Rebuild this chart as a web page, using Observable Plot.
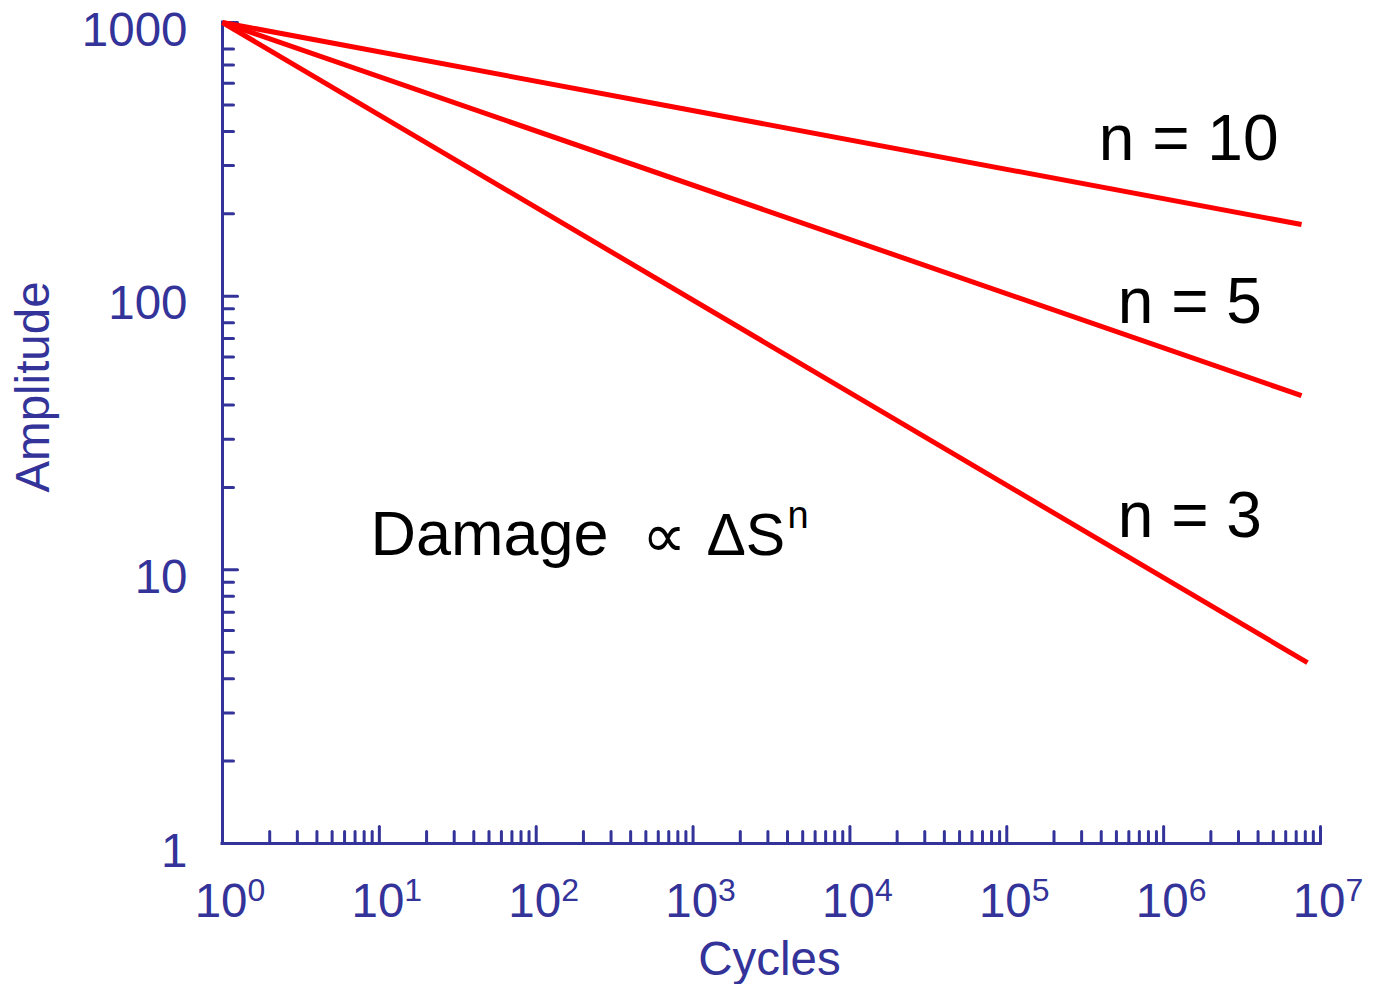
<!DOCTYPE html>
<html>
<head>
<meta charset="utf-8">
<script src="https://cdn.jsdelivr.net/npm/d3@7"></script>
<script src="https://cdn.jsdelivr.net/npm/@observablehq/plot@0.6"></script>
<style>
  html, body { margin: 0; padding: 0; background: #fff; }
  #chart svg { display: block; }
</style>
</head>
<body>
<div id="chart"></div>
<script>
// ---- data ----
const seriesLabels = ["n = 10", "n = 5", "n = 3"];
const startCycles = [1, 1, 1];
const startAmplitude = [1000, 1000, 1000];
const endCycles = [7.57e6, 7.57e6, 8.26e6];
const endAmplitude = [182.7, 43.3, 4.58];

// label anchor points (data units)
const labelCycles = [3.86e5, 5.1e5, 5.1e5];
const labelAmplitude = [315, 80.1, 13.2];

// annotation
const noteCycles = [8.77];
const noteAmplitude = [11.3];

// axes
const xTickValues = [1, 10, 100, 1000, 1e4, 1e5, 1e6, 1e7];
const xTickExponents = ["0", "1", "2", "3", "4", "5", "6", "7"];
const xMinorTicks = [
  2, 3, 4, 5, 6, 7, 8, 9,
  20, 30, 40, 50, 60, 70, 80, 90,
  200, 300, 400, 500, 600, 700, 800, 900,
  2000, 3000, 4000, 5000, 6000, 7000, 8000, 9000,
  2e4, 3e4, 4e4, 5e4, 6e4, 7e4, 8e4, 9e4,
  2e5, 3e5, 4e5, 5e5, 6e5, 7e5, 8e5, 9e5,
  2e6, 3e6, 4e6, 5e6, 6e6, 7e6, 8e6, 9e6
];
const yTickValues = [1, 10, 100, 1000];
const yTickLabels = ["1", "10", "100", "1000"];
const yMinorTicks = [
  2, 3, 4, 5, 6, 7, 8, 9,
  20, 30, 40, 50, 60, 70, 80, 90,
  200, 300, 400, 500, 600, 700, 800
];
const xTitle = "Cycles";
const yTitle = "Amplitude";

// ---- build tables ----
const lineData = [];
seriesLabels.forEach((s, i) => {
  lineData.push({series: s, cycles: startCycles[i], amp: startAmplitude[i]});
  lineData.push({series: s, cycles: endCycles[i], amp: endAmplitude[i]});
});
const labelData = seriesLabels.map((s, i) => ({label: s, cycles: labelCycles[i], amp: labelAmplitude[i]}));
const noteData = noteCycles.map((c, i) => ({cycles: c, amp: noteAmplitude[i]}));

const axisColor = "#333399";
const font = "Liberation Sans, Arial, sans-serif";
const tickShape = {draw(ctx, l) { ctx.moveTo(0, 0); ctx.lineTo(0, -l); }};

const chart = Plot.plot({
  width: 1382,
  height: 984,
  marginLeft: 222,
  marginRight: 62,
  marginTop: 22,
  marginBottom: 141,
  style: {fontFamily: font, background: "#fff"},
  x: {type: "log", domain: [1, 1e7], axis: null},
  y: {type: "log", domain: [1, 1000], axis: null},
  marks: [
    // axis lines
    Plot.ruleY([1], {stroke: axisColor, strokeWidth: 3, strokeLinecap: "square"}),
    Plot.ruleX([1], {stroke: axisColor, strokeWidth: 3, strokeLinecap: "square"}),
    // x ticks (inward)
    Plot.vector(xTickValues, {x: d => d, frameAnchor: "bottom", length: 17, rotate: 0, anchor: "start", shape: tickShape, stroke: axisColor, strokeWidth: 3}),
    Plot.vector(xMinorTicks, {x: d => d, frameAnchor: "bottom", length: 12, rotate: 0, anchor: "start", shape: tickShape, stroke: axisColor, strokeWidth: 3}),
    // y ticks (inward)
    Plot.vector(yTickValues, {y: d => d, frameAnchor: "left", length: 15, rotate: 90, anchor: "start", shape: tickShape, stroke: axisColor, strokeWidth: 3}),
    Plot.vector(yMinorTicks, {y: d => d, frameAnchor: "left", length: 11, rotate: 90, anchor: "start", shape: tickShape, stroke: axisColor, strokeWidth: 3}),
    // x tick labels 10^k
    Plot.text(xTickValues, {x: d => d, frameAnchor: "bottom", text: () => "10", textAnchor: "end", lineAnchor: "bottom", dx: 25, dy: 73, fontSize: 47.5, fill: axisColor}),
    Plot.text(xTickValues, {x: d => d, frameAnchor: "bottom", text: (d, i) => xTickExponents[i], textAnchor: "start", lineAnchor: "bottom", dx: 25, dy: 57, fontSize: 32, fill: axisColor}),
    // y tick labels
    Plot.text(yTickValues, {y: d => d, frameAnchor: "left", text: (d, i) => yTickLabels[i], textAnchor: "end", lineAnchor: "bottom", dx: -35, dy: 23, fontSize: 47.5, fill: axisColor}),
    // axis titles
    Plot.text([xTitle], {text: d => d, frameAnchor: "bottom", textAnchor: "middle", lineAnchor: "bottom", dx: -2, dy: 131, fontSize: 47.5, fill: axisColor}),
    Plot.text([yTitle], {text: d => d, frameAnchor: "left", rotate: -90, textAnchor: "middle", lineAnchor: "bottom", dx: -174, dy: -46, fontSize: 47.5, fill: axisColor}),
    // series lines
    Plot.line(lineData, {x: "cycles", y: "amp", z: "series", stroke: "#ff0000", strokeWidth: 5, strokeLinecap: "butt"}),
    // series labels
    Plot.text(labelData, {x: "cycles", y: "amp", text: "label", textAnchor: "start", lineAnchor: "bottom", fontSize: 64, fill: "#000"}),
    // annotation: Damage ∝ ΔS^n
    Plot.text(noteData, {x: "cycles", y: "amp", text: () => "Damage", textAnchor: "start", lineAnchor: "bottom", fontSize: 63, fill: "#000"}),
    Plot.text(noteData, {x: "cycles", y: "amp", text: () => "\u221D", textAnchor: "start", lineAnchor: "bottom", dx: 272, dy: 2, fontSize: 62, fill: "#000"}),
    Plot.text(noteData, {x: "cycles", y: "amp", text: () => "\u0394S", textAnchor: "start", lineAnchor: "bottom", dx: 336, fontSize: 59, fill: "#000"}),
    Plot.text(noteData, {x: "cycles", y: "amp", text: () => "n", textAnchor: "start", lineAnchor: "bottom", dx: 417, dy: -27, fontSize: 38, fill: "#000"})
  ]
});
document.getElementById("chart").appendChild(chart);
</script>
</body>
</html>
